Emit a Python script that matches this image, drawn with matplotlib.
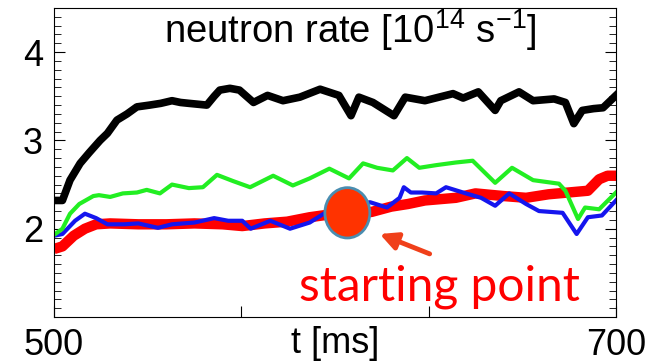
import matplotlib
matplotlib.use("Agg")
from matplotlib import pyplot as plt
from matplotlib.patches import Ellipse
from matplotlib.ticker import MultipleLocator, FixedLocator
import numpy as np

plt.rcParams['font.family'] = ['Liberation Sans', 'DejaVu Sans']
plt.rcParams['mathtext.fontset'] = 'custom'
plt.rcParams['mathtext.rm'] = 'Liberation Sans'

# black trace
black_t = [500, 503, 505.7, 509.3, 512.5, 516.4, 519, 522.4, 526, 529.5, 534, 538, 542, 545, 548,
           554.4, 557, 559, 562.6, 566, 571, 576, 581.5, 587.5, 594.7, 601.4, 605.7, 608.5, 613.5,
           621, 625, 632, 642, 645.6, 651, 657, 659, 665.5, 670.5, 678, 682, 685, 688, 692, 695.4, 700]
black_v = [2.32, 2.32, 2.55, 2.74, 2.86, 3.0, 3.08, 3.23, 3.30, 3.38, 3.40, 3.42, 3.45, 3.43, 3.42,
           3.40, 3.50, 3.57, 3.59, 3.57, 3.43, 3.51, 3.45, 3.49, 3.58, 3.51, 3.28, 3.49, 3.43,
           3.28, 3.49, 3.45, 3.53, 3.48, 3.55, 3.34, 3.45, 3.55, 3.45, 3.47, 3.43, 3.19, 3.34, 3.36, 3.37, 3.51]

# green trace
green_t = [500, 503, 505.7, 509, 514, 516, 520, 524.5, 529.5, 533, 537.7, 542, 548, 553, 558, 563.7,
           569.8, 578, 585, 591, 598, 605, 610, 615, 620.6, 625.6, 630, 636, 643, 649, 657, 663,
           670.5, 679.7, 682, 686.5, 689, 694, 700]
green_v = [1.93, 2.0, 2.17, 2.28, 2.37, 2.38, 2.36, 2.40, 2.41, 2.44, 2.40, 2.50, 2.46, 2.47, 2.61, 2.54,
           2.47, 2.60, 2.49, 2.57, 2.68, 2.57, 2.74, 2.69, 2.66, 2.80, 2.69, 2.72, 2.75, 2.77, 2.52, 2.69,
           2.55, 2.51, 2.43, 2.11, 2.24, 2.22, 2.41]

# blue trace
blue_t = [500, 503, 507.5, 511, 515, 519, 525, 530, 537, 542, 550, 557, 562, 567, 570, 577, 584, 591,
          596, 604, 612.5, 618.5, 623, 624.5, 627, 631, 636, 639.5, 646.6, 652, 657, 662, 668, 672.6,
          681, 686, 690, 695, 700]
blue_v = [1.92, 1.94, 2.09, 2.17, 2.12, 2.05, 2.05, 2.06, 2.01, 2.05, 2.07, 2.12, 2.09, 2.09, 2.0, 2.09,
          2.0, 2.07, 2.17, 2.25, 2.30, 2.24, 2.35, 2.47, 2.41, 2.41, 2.40, 2.47, 2.40, 2.35, 2.26, 2.40,
          2.28, 2.20, 2.18, 1.94, 2.13, 2.15, 2.32]

# red trace
red_t = [500, 503, 507, 511, 515, 520, 530, 540, 550, 560, 567, 575, 583, 591, 600, 613, 620, 626,
         632, 643, 650, 660, 668, 676, 683, 690, 694, 697, 700]
red_v = [1.77, 1.80, 1.92, 2.0, 2.05, 2.06, 2.05, 2.05, 2.06, 2.05, 2.03, 2.06, 2.08, 2.13, 2.17, 2.19,
         2.25, 2.28, 2.32, 2.35, 2.40, 2.37, 2.35, 2.39, 2.41, 2.43, 2.56, 2.60, 2.60]

start_t, start_v = 604.4, 2.18  # starting point marker

fig = plt.figure(figsize=(6.56, 3.63), dpi=100)
ax = fig.add_axes([0.0823, 0.1267, 0.8567, 0.8513])

ax.plot(red_t, red_v, color='#ff0000', lw=7.5, solid_capstyle='butt')
ax.plot(blue_t, blue_v, color='#1515ee', lw=3)
ax.plot(green_t, green_v, color='#22ee22', lw=3)
ax.plot(black_t, black_v, color='black', lw=5.5)

ax.add_patch(Ellipse((start_t, start_v), 16, 0.57, facecolor='#ff3300',
                     edgecolor='#4a8db0', lw=2, zorder=5))

ax.annotate('', xy=(0.575, 0.272), xytext=(0.673, 0.201), xycoords='axes fraction',
            arrowprops=dict(arrowstyle='-|>', color='#f0401a', lw=3.5, mutation_scale=26))

ax.text(0.685, 0.055, 'starting point', transform=ax.transAxes, ha='center', va='baseline',
        color='#ff0000', fontsize=34.5, family=['Lato', 'DejaVu Sans'])
ax.text(0.527, 0.887, 'neutron rate [10$^{14}$ s$^{-1}$]', transform=ax.transAxes,
        ha='center', va='baseline', fontsize=27.5)
ax.text(0.5, -0.03, 't [ms]', transform=ax.transAxes, ha='center', va='top', fontsize=26)

ax.set_xlim(500, 700)
ax.set_ylim(1, 4.5)
ax.xaxis.set_major_locator(FixedLocator(np.linspace(500, 700, 4)))
ax.set_xticklabels(['500', '', '', '700'])
ax.set_yticks([2, 3, 4])
ax.yaxis.set_minor_locator(MultipleLocator(0.1))
ax.tick_params(axis='both', which='major', direction='in', labelsize=26, length=8, pad=8)
ax.tick_params(axis='y', which='both', right=True, direction='in')
ax.tick_params(axis='y', which='minor', length=5)

fig.savefig('out.png', dpi=100)
